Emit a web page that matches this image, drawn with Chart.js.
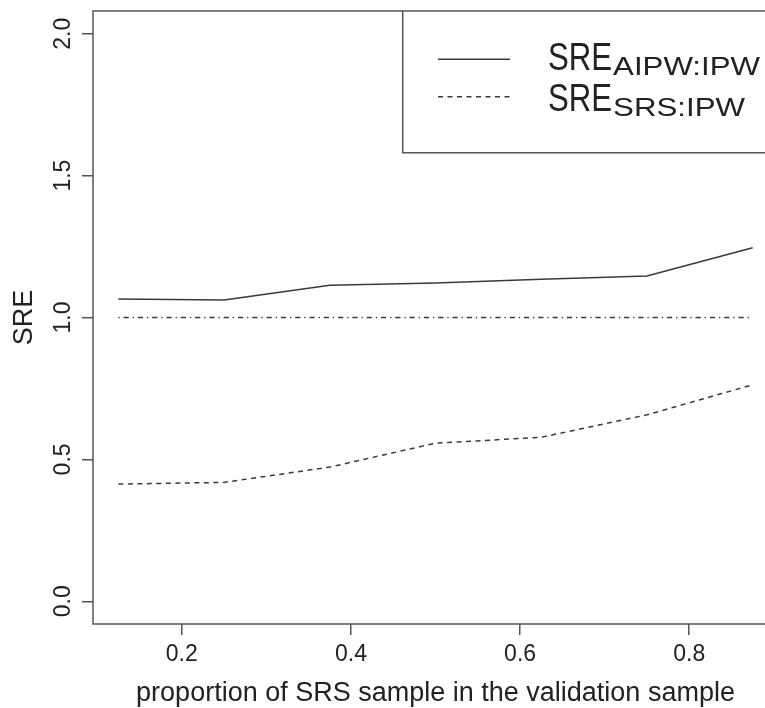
<!DOCTYPE html>
<html>
<head>
<meta charset="utf-8">
<script src="https://cdn.jsdelivr.net/npm/chart.js@4"></script>
<style>
html,body{margin:0;padding:0;background:#fff;overflow:hidden;}
#wrap{width:765px;height:708px;overflow:hidden;position:relative;background:#fff;}
canvas{display:block;}
</style>
</head>
<body>
<div id="wrap"><canvas id="c" width="765" height="708" style="width:765px;height:708px"></canvas></div>
<script>
// ---- data ----
const xValues      = [0.125, 0.25, 0.375, 0.5, 0.625, 0.75, 0.875];
const sreAipwIpw   = [1.065, 1.062, 1.114, 1.122, 1.135, 1.146, 1.246];
const sreSrsIpw    = [0.413, 0.419, 0.473, 0.557, 0.578, 0.657, 0.763];
const referenceOne = [1, 1, 1, 1, 1, 1, 1];
const xTicks = [0.2, 0.4, 0.6, 0.8];
const yTicks = [0.0, 0.5, 1.0, 1.5, 2.0];
const xTitle = 'proportion of SRS sample in the validation sample';
const yTitle = 'SRE';
const legendMain = ['SRE', 'SRE'];
const legendSub  = ['AIPW:IPW', 'SRS:IPW'];

// ---- styles ----
const FONT = "'Liberation Sans', Arial, Helvetica, sans-serif";
const INK = '#222';
const LINE = '#3a3a3a';
const BOX = '#555';
const DASH = [5, 4.5];
const DOTDASH = [1.3, 3.9, 5.2, 3.9];

const toPts = ys => xValues.map((x, i) => ({ x: x, y: ys[i] }));

const overlay = {
  id: 'overlay',
  beforeDraw(chart) {
    const ctx = chart.ctx;
    ctx.save();
    ctx.fillStyle = '#fff';
    ctx.fillRect(0, 0, chart.width, chart.height);
    ctx.restore();
  },
  afterDraw(chart) {
    const { ctx, chartArea: a, scales: { x, y } } = chart;
    ctx.save();
    // plot box (its right side lies beyond the picture edge)
    ctx.strokeStyle = BOX;
    ctx.lineWidth = 1.5;
    ctx.setLineDash([]);
    ctx.beginPath();
    ctx.moveTo(chart.width + 20, a.top);
    ctx.lineTo(a.left, a.top);
    ctx.lineTo(a.left, a.bottom);
    ctx.lineTo(chart.width + 20, a.bottom);
    ctx.stroke();

    // y tick labels (rotated, R style)
    ctx.fillStyle = INK;
    ctx.font = '23px ' + FONT;
    ctx.textAlign = 'center';
    ctx.textBaseline = 'alphabetic';
    yTicks.forEach(v => {
      const py = y.getPixelForValue(v);
      ctx.save();
      ctx.translate(a.left - 23, py);
      ctx.rotate(-Math.PI / 2);
      ctx.fillText(v.toFixed(1), 0, 0);
      ctx.restore();
    });

    // y title
    ctx.font = '27px ' + FONT;
    ctx.save();
    ctx.translate(31.5, (a.top + a.bottom) / 2);
    ctx.rotate(-Math.PI / 2);
    ctx.fillText(yTitle, 0, 0);
    ctx.restore();

    // x title, centred on the full (cropped) R plot region
    ctx.fillText(xTitle, x.getPixelForValue(0.5), 701);

    // legend box (top-right, extends past the right edge)
    const lx = 402.7, lb = 152.7;
    ctx.strokeStyle = BOX;
    ctx.lineWidth = 1.5;
    ctx.beginPath();
    ctx.moveTo(chart.width + 20, lb);
    ctx.lineTo(lx, lb);
    ctx.lineTo(lx, a.top);
    ctx.stroke();

    // legend samples
    const sampleY = [59.3, 96.7];
    const dashes = [[], DASH];
    ctx.strokeStyle = LINE;
    ctx.lineWidth = 1.5;
    sampleY.forEach((sy, i) => {
      ctx.setLineDash(dashes[i]);
      ctx.beginPath();
      ctx.moveTo(438, sy);
      ctx.lineTo(510, sy);
      ctx.stroke();
    });
    ctx.setLineDash([]);

    // legend text with subscripts
    const baseY = [69.5, 110.5];
    ctx.fillStyle = INK;
    ctx.textAlign = 'left';
    baseY.forEach((by, i) => {
      ctx.font = '38px ' + FONT;
      const w = ctx.measureText(legendMain[i]).width * 0.82;
      ctx.save();
      ctx.translate(548, by);
      ctx.scale(0.82, 1);
      ctx.fillText(legendMain[i], 0, 0);
      ctx.restore();
      ctx.font = '25px ' + FONT;
      ctx.save();
      ctx.translate(548 + w + 1, by + 5);
      ctx.scale(1.25, 1);
      ctx.fillText(legendSub[i], 0, 0);
      ctx.restore();
    });
    ctx.restore();
  }
};

new Chart(document.getElementById('c'), {
  type: 'line',
  data: {
    datasets: [
      { label: 'ref', data: toPts(referenceOne), borderColor: LINE, borderWidth: 1.3, borderDash: DOTDASH, pointRadius: 0, tension: 0, fill: false },
      { label: 'SRE AIPW:IPW', data: toPts(sreAipwIpw), borderColor: LINE, borderWidth: 1.5, pointRadius: 0, tension: 0, fill: false },
      { label: 'SRE SRS:IPW', data: toPts(sreSrsIpw), borderColor: LINE, borderWidth: 1.5, borderDash: DASH, pointRadius: 0, tension: 0, fill: false }
    ]
  },
  options: {
    responsive: false,
    animation: false,
    events: [],
    layout: { padding: { top: 11, right: 0, left: 0, bottom: 0 } },
    plugins: { legend: { display: false }, tooltip: { enabled: false } },
    scales: {
      x: {
        // visible part of the R range 0.095..0.905 (the plot is cropped at the right)
        type: 'linear', min: 0.095, max: 0.8896,
        afterBuildTicks: s => { s.ticks = xTicks.map(v => ({ value: v })); },
        afterFit: s => { s.height = 84; s.paddingLeft = 0; s.paddingRight = 0; },
        grid: { display: true, drawOnChartArea: false, drawTicks: true, tickLength: 11, color: BOX, lineWidth: 1.5 },
        border: { display: false },
        ticks: { font: { family: FONT, size: 23 }, color: INK, padding: 6, maxRotation: 0, autoSkip: false, callback: v => Number(v).toFixed(1) },
        title: { display: false }
      },
      y: {
        type: 'linear', min: -0.08, max: 2.08,
        afterBuildTicks: s => { s.ticks = yTicks.map(v => ({ value: v })); },
        afterFit: s => { s.width = 93; s.paddingTop = 0; s.paddingBottom = 0; },
        grid: { display: true, drawOnChartArea: false, drawTicks: true, tickLength: 11, color: BOX, lineWidth: 1.5 },
        border: { display: false },
        ticks: { display: false }
      }
    }
  },
  plugins: [overlay]
});
</script>
</body>
</html>
